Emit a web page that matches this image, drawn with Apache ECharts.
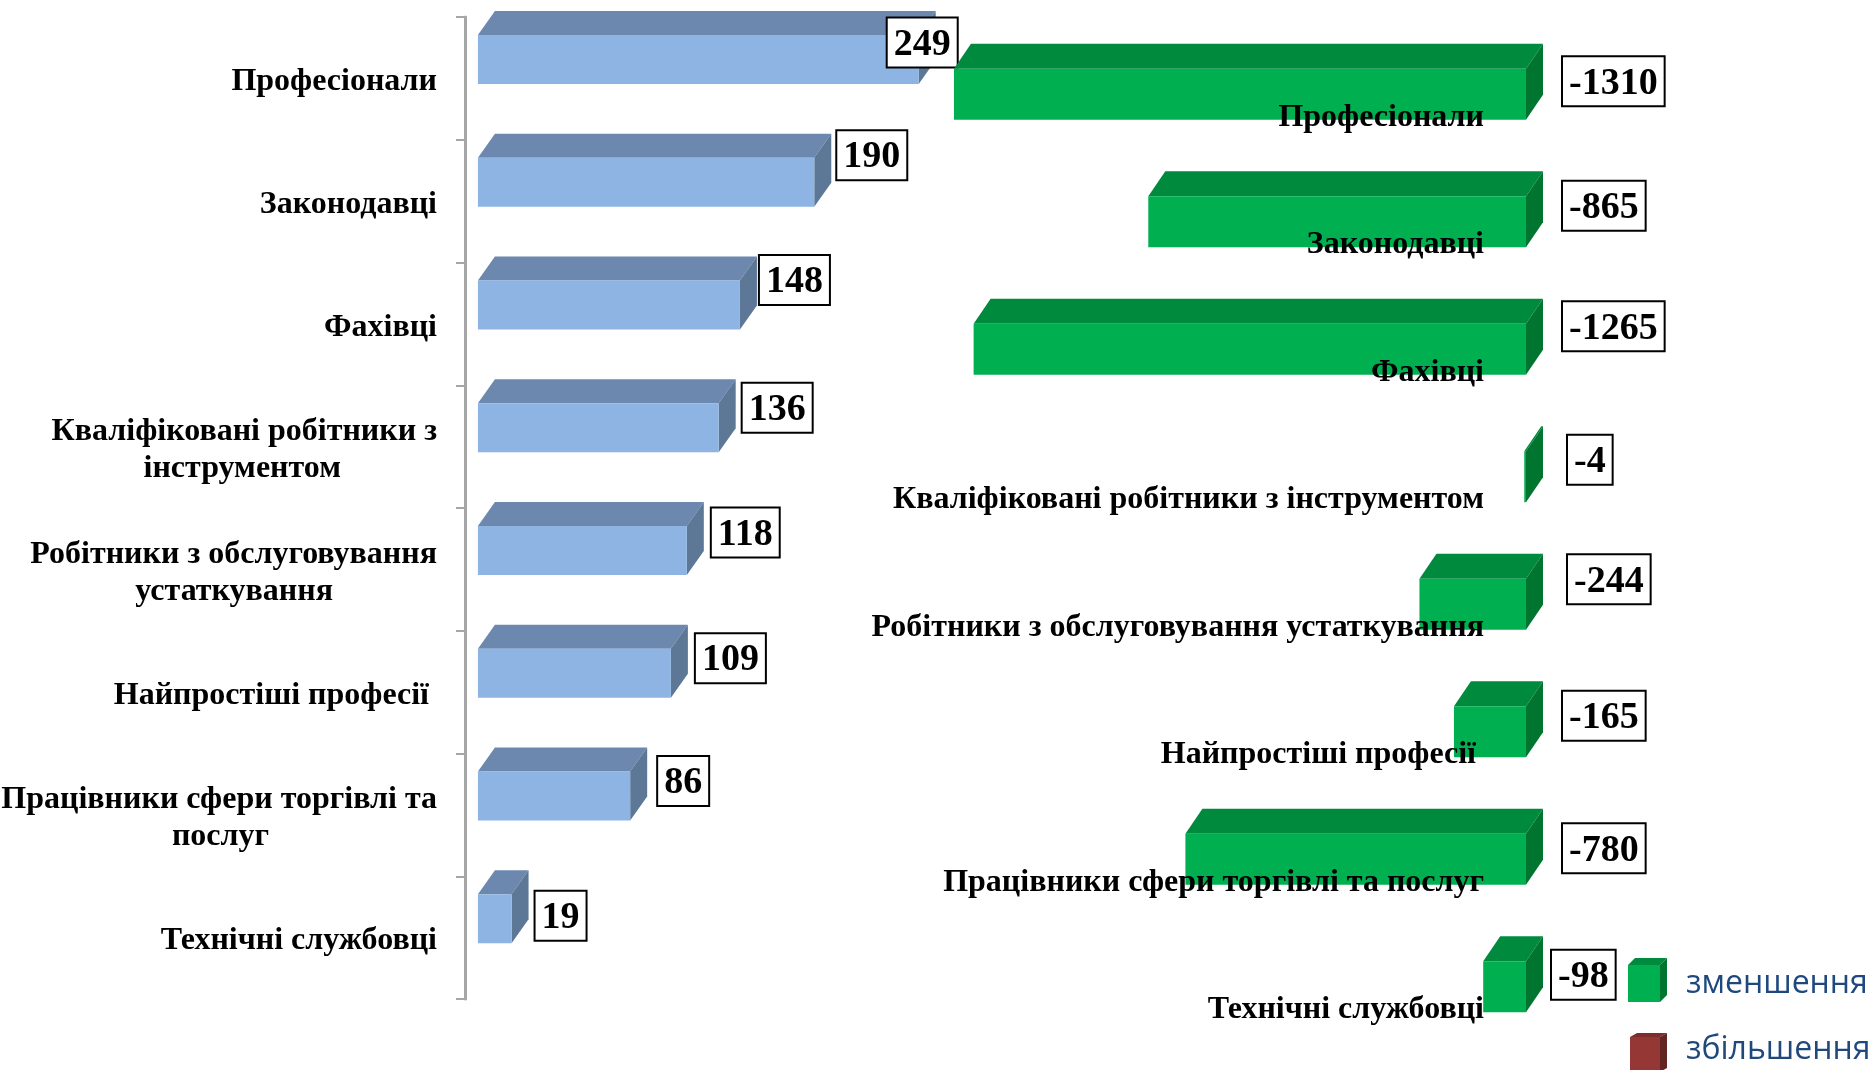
<!DOCTYPE html>
<html>
<head>
<meta charset="utf-8">
<title>chart</title>
<style>
html, body { margin: 0; padding: 0; background: #fff; overflow: hidden; }
#main { width: 1874px; height: 1070px; }
</style>
<script src="https://cdn.jsdelivr.net/npm/echarts@6/dist/echarts.min.js"></script>
</head>
<body>
<div id="main"></div>
<script>
let categories = ['Професіонали', 'Законодавці', 'Фахівці', 'Кваліфіковані робітники з інструментом',
    'Робітники з обслуговування устаткування', 'Найпростіші професії', 'Працівники сфери торгівлі та послуг', 'Технічні службовці'];
let increaseValues = [249, 190, 148, 136, 118, 109, 86, 19];
let decreaseValues = [-1310, -865, -1265, -4, -244, -165, -780, -98];
let legendNames = ['зменшення', 'збільшення'];

// the value boxes were moved by hand in the original, so each one has its own nudge [dx, dy]
let increaseNudge = [[-31, -17], [23, -27], [20, -25], [24, -20], [25, -18], [25, -15], [28, -15], [24, -3]];
let decreaseNudge = [[37, -13], [37, -16], [37, -23], [42, -17], [42, -25], [37, -16], [37, -11], [26, -12]];

let serif = '"Liberation Serif", "Times New Roman", serif';
let blue = { front: '#8db4e2', top: '#6c88ae', side: '#5d7797' };
let green = { front: '#00b050', top: '#008a3e', side: '#00752f' };

let measureCtx = document.createElement('canvas').getContext('2d');
measureCtx.font = 'bold 32px ' + serif;

// the original text has a trailing space here
function rightLabel(name) {
    return '{a|' + (name === 'Найпростіші професії' ? name + '\u00a0' : name) + '}';
}

// lines of a wrapped label are centred inside a right aligned block
function leftLabel(name) {
    let wraps = {
        'Кваліфіковані робітники з інструментом': ['Кваліфіковані робітники з', 'інструментом'],
        'Робітники з обслуговування устаткування': ['Робітники з обслуговування', 'устаткування'],
        'Працівники сфери торгівлі та послуг': ['Працівники сфери торгівлі та', 'послуг']
    };
    if (!wraps[name]) {
        return rightLabel(name);
    }
    let first = wraps[name][0], second = wraps[name][1];
    let gap = measureCtx.measureText(first).width - measureCtx.measureText(second).width;
    let pad = Math.round(gap / 2 / measureCtx.measureText('\u00a0').width);
    return '{a|' + first + '}\n{a|' + second + '\u00a0'.repeat(pad) + '}';
}

// plain text ignores top padding when centred, rich tokens do not
function labelToken(paddingTop) {
    return {
        fontFamily: serif,
        fontWeight: 'bold',
        fontSize: 32,
        color: '#000',
        lineHeight: 37,
        height: 26,
        padding: [paddingTop, 0, 0, 0]
    };
}

function bar3d(colors, values, nudge, frontH, shift, dx, dy) {
    return function(params, api) {
        let i = api.value(1);
        let p0 = api.coord([0, i]);
        let p1 = api.coord([api.value(0), i]);
        let xl = Math.min(p0[0], p1[0]), xr = Math.max(p0[0], p1[0]);
        let yt = p0[1] + shift - frontH / 2, yb = yt + frontH;
        let n = nudge[params.dataIndex];
        return {
            type: 'group',
            children: [{
                type: 'polygon',
                shape: { points: [[xl, yt], [xl + dx, yt - dy], [xr + dx, yt - dy], [xr, yt]] },
                style: { fill: colors.top }
            }, {
                type: 'polygon',
                shape: { points: [[xr, yt], [xr + dx, yt - dy], [xr + dx, yb - dy], [xr, yb]] },
                style: { fill: colors.side }
            }, {
                type: 'rect',
                shape: { x: xl, y: yt, width: xr - xl, height: frontH },
                style: { fill: colors.front }
            }, {
                type: 'text',
                z2: 20,
                style: {
                    x: xr + n[0],
                    y: yt + frontH / 2 + n[1] - 24,
                    text: String(values[params.dataIndex]),
                    align: 'left',
                    verticalAlign: 'top',
                    fontFamily: serif,
                    fontWeight: 'bold',
                    fontSize: 38,
                    fill: '#000',
                    backgroundColor: '#fff',
                    borderColor: '#000',
                    borderWidth: 2,
                    padding: [7, 6, 2, 6],
                    lineHeight: 39
                }
            }]
        };
    };
}

function swatch(x, y, w, h, colors, dx, dy) {
    return [{
        type: 'polygon',
        shape: { points: [[x, y], [x + dx, y - dy], [x + w + dx, y - dy], [x + w, y]] },
        style: { fill: colors.top }
    }, {
        type: 'polygon',
        shape: { points: [[x + w, y], [x + w + dx, y - dy], [x + w + dx, y + h - dy], [x + w, y + h]] },
        style: { fill: colors.side }
    }, {
        type: 'rect',
        shape: { x: x, y: y, width: w, height: h },
        style: { fill: colors.front }
    }];
}

function legendText(x, y, text) {
    return {
        type: 'text',
        style: {
            x: x, y: y, text: text,
            align: 'left', verticalAlign: 'middle',
            fontFamily: '"Open Sans", sans-serif',
            fontSize: 32,
            fill: '#1f497d'
        }
    };
}

let chart = echarts.init(document.getElementById('main'));
let option = {
    animation: false,
    backgroundColor: '#fff',
    grid: [
        { left: 465, top: 17, width: 544, height: 982, outerBoundsMode: 'none' },
        { left: 871, top: 52, width: 655, height: 1020, outerBoundsMode: 'none' }
    ],
    xAxis: [
        { type: 'value', gridIndex: 0, min: -7.3, max: 300, show: false },
        { type: 'value', gridIndex: 1, min: -1500, max: 0, show: false }
    ],
    yAxis: [{
        type: 'category',
        gridIndex: 0,
        inverse: true,
        data: categories,
        z: 10,
        axisLine: { onZero: false, lineStyle: { color: '#a6a6a6', width: 3 } },
        axisTick: { show: true, length: 9, lineStyle: { color: '#a6a6a6', width: 2 } },
        axisLabel: {
            margin: 28,
            formatter: leftLabel,
            rich: { a: labelToken(7) }
        }
    }, {
        type: 'category',
        gridIndex: 1,
        inverse: true,
        position: 'right',
        data: categories,
        z: 10,
        axisLine: { show: false },
        axisTick: { show: false },
        axisLabel: {
            inside: true,
            margin: 42,
            formatter: rightLabel,
            rich: { a: labelToken(3) }
        }
    }],
    series: [{
        type: 'custom',
        name: 'increase',
        xAxisIndex: 0,
        yAxisIndex: 0,
        encode: { x: 0, y: 1 },
        data: increaseValues.map(function(v, i) { return [v, i]; }),
        renderItem: bar3d(blue, increaseValues, increaseNudge, 49, -19, 17, 24),
        z: 2
    }, {
        type: 'custom',
        name: legendNames[0],
        xAxisIndex: 1,
        yAxisIndex: 1,
        encode: { x: 0, y: 1 },
        data: decreaseValues.map(function(v, i) { return [v, i]; }),
        renderItem: bar3d(green, decreaseValues, decreaseNudge, 51, -21.5, 17, 25),
        z: 3
    }],
    graphic: swatch(1628, 965, 32, 37, green, 7, 7)
        .concat(swatch(1630, 1037, 30, 35, { front: '#953735', top: '#7c2e2c', side: '#632523' }, 7, 4))
        .concat([legendText(1686, 984, legendNames[0]), legendText(1686, 1050, legendNames[1])])
};
chart.setOption(option);
</script>
</body>
</html>
